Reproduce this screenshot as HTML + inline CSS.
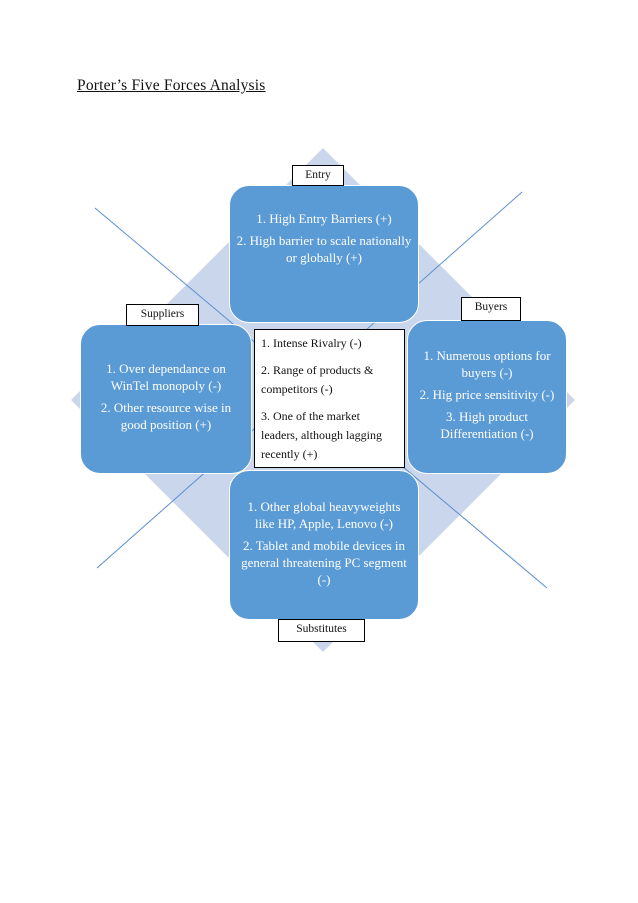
<!DOCTYPE html>
<html><head><meta charset="utf-8"><style>
html,body{margin:0;padding:0;background:#fff;}
body{width:638px;height:903px;position:relative;overflow:hidden;font-family:"Liberation Serif",serif;}
.t{position:absolute;left:77px;top:77px;font-size:15.5px;text-decoration:underline;color:#111;letter-spacing:0.2px;}
.b{position:absolute;background:#5b9bd5;border-radius:20px;color:#fff;font-size:13px;line-height:17px;text-align:center;display:flex;flex-direction:column;justify-content:center;box-sizing:border-box;border:1px solid #fff;}
.b p{margin:0 0 5px 0;}
.l{position:absolute;background:#fff;border:1px solid #000;font-size:11.5px;text-align:center;box-sizing:border-box;line-height:19px;color:#111;}
.c{position:absolute;left:254px;top:329px;width:151px;height:139px;background:#fff;border:1px solid #000;box-sizing:border-box;font-size:12px;line-height:19px;padding:4px 6px;color:#111;}
.c p{margin:0 0 8px 0;}
</style></head><body>
<div class="t">Porter’s Five Forces Analysis</div>
<svg width="638" height="903" style="position:absolute;left:0;top:0">
<polygon points="323,148 575,400 323,652 71,400" fill="#cad6ec"/>
<line x1="95" y1="208" x2="547" y2="588" stroke="#5b8fd0" stroke-width="1"/>
<line x1="522" y1="192" x2="97" y2="568" stroke="#5b8fd0" stroke-width="1"/>
</svg>
<div class="b" style="left:229px;top:185px;width:190px;height:138px;padding-bottom:28px"><p>1. High Entry Barriers (+)</p><p>2. High barrier to scale nationally or globally (+)</p></div>
<div class="b" style="left:80px;top:324px;width:172px;height:150px;padding:0 6px"><p>1. Over dependance on WinTel monopoly (-)</p><p>2. Other resource wise in good position (+)</p></div>
<div class="b" style="left:407px;top:320px;width:160px;height:154px;padding:0 8px"><p>1. Numerous options for buyers (-)</p><p>2. Hig price sensitivity (-)</p><p>3. High product Differentiation (-)</p></div>
<div class="b" style="left:229px;top:470px;width:190px;height:150px;padding:0 8px"><p>1. Other global heavyweights like HP, Apple, Lenovo (-)</p><p>2. Tablet and mobile devices in general threatening PC segment (-)</p></div>
<div class="c"><p>1. Intense Rivalry (-)</p><p>2. Range of products &amp; competitors (-)</p><p style="margin:0">3. One of the market leaders, although lagging recently (+)</p></div>
<div class="l" style="left:292px;top:165px;width:52px;height:21px">Entry</div>
<div class="l" style="left:126px;top:304px;width:73px;height:22px">Suppliers</div>
<div class="l" style="left:461px;top:297px;width:60px;height:24px">Buyers</div>
<div class="l" style="left:278px;top:619px;width:87px;height:23px">Substitutes</div>
</body></html>
